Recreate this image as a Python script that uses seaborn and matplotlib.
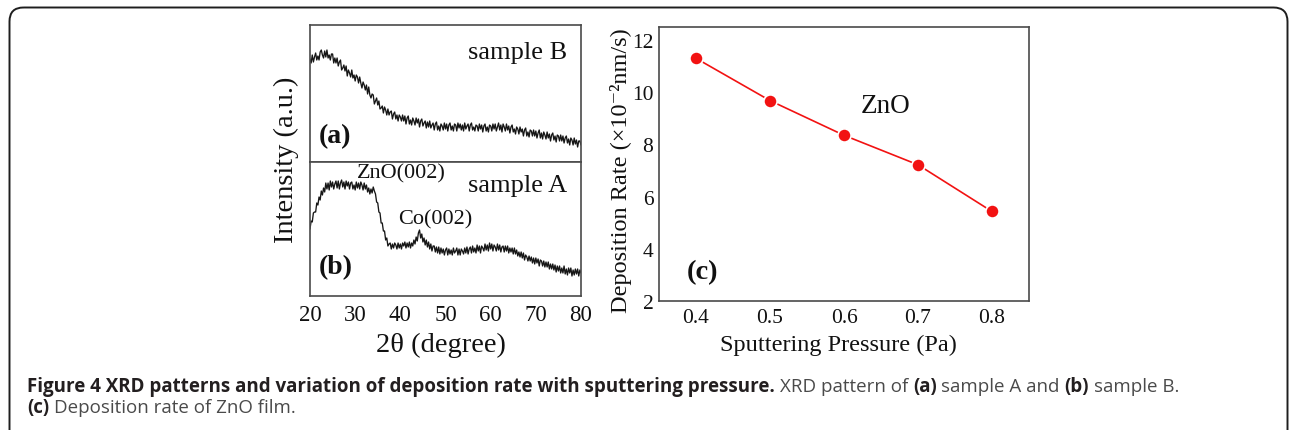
import numpy as np
import pandas as pd
import matplotlib
matplotlib.use("Agg")
import matplotlib.pyplot as plt
import seaborn as sns
from matplotlib.patches import FancyBboxPatch
from matplotlib.ticker import MultipleLocator, FixedLocator

# ---- data ----
# XRD scans, 2theta from 20 to 80 deg in 0.25 deg steps, intensity in arbitrary units
two_theta = np.linspace(20, 80, 241)

sample_b = [103, 99, 107, 100, 105, 109, 102, 106, 102, 110,
            112, 107, 104, 111, 105, 112, 104, 107, 102, 108,
            108, 99, 104, 99, 104, 96, 100, 102, 92, 94,
            97, 91, 96, 86, 92, 89, 85, 92, 84, 87,
            81, 87, 85, 79, 85, 79, 74, 80, 77, 72,
            77, 68, 75, 67, 64, 68, 67, 58, 61, 64,
            57, 61, 53, 54, 56, 49, 55, 52, 47, 53,
            47, 50, 51, 43, 48, 50, 43, 47, 41, 47,
            45, 41, 47, 41, 46, 38, 44, 46, 38, 42,
            37, 44, 41, 37, 44, 39, 43, 35, 41, 43,
            36, 39, 41, 34, 40, 35, 41, 34, 37, 39,
            32, 38, 40, 32, 36, 31, 38, 36, 32, 39,
            33, 38, 31, 37, 39, 32, 36, 31, 38, 37,
            31, 39, 34, 38, 32, 37, 31, 39, 33, 36,
            38, 31, 37, 39, 32, 35, 31, 37, 36, 31,
            38, 33, 37, 30, 36, 38, 31, 35, 30, 37,
            36, 31, 38, 33, 38, 31, 35, 39, 32, 37,
            30, 38, 35, 31, 38, 32, 36, 29, 35, 37,
            30, 33, 28, 35, 33, 28, 35, 30, 33, 26,
            32, 34, 26, 30, 25, 32, 31, 26, 32, 26,
            31, 24, 29, 32, 24, 29, 23, 30, 27, 23,
            30, 24, 28, 21, 27, 29, 22, 26, 20, 27,
            26, 21, 27, 21, 26, 19, 24, 26, 19, 23,
            17, 24, 22, 17, 24, 18, 22, 15, 21, 21,
            17]

sample_a = [67, 75, 74, 83, 84, 84, 93, 91, 99, 96,
            105, 101, 108, 104, 113, 107, 113, 106, 115, 109,
            114, 107, 112, 115, 108, 115, 107, 113, 116, 109,
            114, 107, 115, 110, 114, 107, 113, 114, 107, 111,
            106, 114, 108, 113, 107, 114, 111, 106, 113, 107,
            111, 104, 108, 102, 107, 103, 109, 105, 102, 94,
            93, 84, 83, 73, 73, 65, 65, 56, 58, 50,
            52, 53, 47, 52, 48, 53, 51, 47, 53, 48,
            52, 47, 53, 50, 54, 48, 53, 49, 54, 48,
            53, 50, 56, 52, 59, 55, 63, 66, 58, 62,
            54, 58, 51, 56, 49, 54, 47, 52, 45, 50,
            50, 44, 49, 43, 49, 42, 48, 43, 47, 41,
            46, 48, 41, 47, 42, 46, 41, 48, 43, 45,
            48, 41, 47, 41, 47, 45, 42, 48, 43, 49,
            42, 47, 49, 43, 50, 44, 48, 43, 51, 45,
            50, 43, 50, 48, 45, 52, 46, 51, 45, 53,
            47, 52, 45, 51, 49, 45, 52, 46, 51, 44,
            49, 50, 44, 50, 45, 50, 43, 48, 44, 48,
            42, 48, 42, 46, 40, 44, 39, 44, 38, 43,
            36, 41, 39, 35, 40, 35, 39, 33, 38, 32,
            38, 33, 37, 30, 36, 35, 30, 35, 29, 34,
            29, 34, 27, 32, 27, 32, 26, 31, 24, 30,
            25, 30, 23, 28, 23, 30, 22, 27, 21, 28,
            23, 28, 20, 26, 21, 27, 22, 27, 20, 26,
            23]

# deposition rate of ZnO film
pressure = [0.4, 0.5, 0.6, 0.7, 0.8]           # Pa
dep_rate = [11.3, 9.68, 8.35, 7.22, 5.43]      # x10^-2 nm/s

xrd_b = pd.DataFrame({"two_theta": two_theta, "intensity": sample_b})
xrd_a = pd.DataFrame({"two_theta": two_theta, "intensity": sample_a})
rate_df = pd.DataFrame({"pressure": pressure, "rate": dep_rate})

# ---- style ----
sns.set_theme(style="white")
plt.rcParams["font.family"] = ["Liberation Serif", "DejaVu Serif"]

W, H = 1290, 431
fig = plt.figure(figsize=(W / 100, H / 100), dpi=100)


def box(x0, y0, x1, y1):
    # pixel box (top-left origin) -> figure fraction
    return [x0 / W, 1 - y1 / H, (x1 - x0) / W, (y1 - y0) / H]


spine_col = "#4a4a4a"
ink = "#111111"

# background layer in pixel units: rounded frame + caption
bg = fig.add_axes([0, 0, 1, 1], zorder=-1)
bg.set_xlim(0, W)
bg.set_ylim(H, 0)
bg.axis("off")
bg.add_patch(FancyBboxPatch((9.5, 8.5), 1278, 480,
                            boxstyle="round,pad=0,rounding_size=14",
                            fill=False, ec="#1e1e1e", lw=1.4))


def style_axes(ax):
    for s in ax.spines.values():
        s.set_color(spine_col)
        s.set_linewidth(1.2)
    ax.tick_params(which="both", direction="in", color=spine_col, width=1.0,
                   top=False, right=False)
    ax.tick_params(which="major", length=5)
    ax.tick_params(which="minor", length=3)
    ax.set_xlabel("")
    ax.set_ylabel("")


# ---- (a) sample B ----
ax_a = fig.add_axes(box(310, 26, 581, 163))
sns.lineplot(data=xrd_b, x="two_theta", y="intensity", ax=ax_a,
             color="#161616", lw=0.95)
ax_a.set_xlim(20, 80)
ax_a.set_ylim(0, 137)
style_axes(ax_a)
ax_a.xaxis.set_major_locator(MultipleLocator(10))
ax_a.xaxis.set_minor_locator(MultipleLocator(5))
ax_a.yaxis.set_major_locator(FixedLocator([13, 40.5, 68, 95.5, 123]))
ax_a.yaxis.set_minor_locator(FixedLocator([26.75, 54.25, 81.75, 109.25]))
ax_a.tick_params(labelbottom=False, labelleft=False)
ax_a.text(0.948, 0.80, "sample B", transform=ax_a.transAxes, fontsize=19,
          ha="right", va="center", color=ink)
ax_a.text(0.033, 0.19, "(a)", transform=ax_a.transAxes, fontsize=20,
          fontweight="bold", ha="left", va="center", color=ink)

# ---- (b) sample A ----
ax_b = fig.add_axes(box(310, 163, 581, 297))
sns.lineplot(data=xrd_a, x="two_theta", y="intensity", ax=ax_b,
             color="#161616", lw=0.95)
ax_b.set_xlim(20, 80)
ax_b.set_ylim(0, 134)
style_axes(ax_b)
ax_b.xaxis.set_major_locator(MultipleLocator(10))
ax_b.xaxis.set_minor_locator(MultipleLocator(5))
ax_b.yaxis.set_major_locator(FixedLocator([21, 44, 67, 90, 113]))
ax_b.yaxis.set_minor_locator(FixedLocator([10, 32.5, 55.5, 78.5, 101.5, 124]))
ax_b.tick_params(labelleft=False, labelsize=16.5, pad=6, labelcolor=ink)
ax_b.set_xlabel("2θ (degree)", fontsize=20.5, color=ink, va="center")
ax_b.xaxis.set_label_coords(0.485, -0.36)
ax_b.text(0.173, 0.92, "ZnO(002)", transform=ax_b.transAxes, fontsize=16,
          ha="left", va="center", color=ink)
ax_b.text(0.948, 0.83, "sample A", transform=ax_b.transAxes, fontsize=19,
          ha="right", va="center", color=ink)
ax_b.text(0.325, 0.575, "Co(002)", transform=ax_b.transAxes, fontsize=16,
          ha="left", va="center", color=ink)
ax_b.text(0.033, 0.216, "(b)", transform=ax_b.transAxes, fontsize=20,
          fontweight="bold", ha="left", va="center", color=ink)

fig.text(286 / W, 1 - 160 / H, "Intensity (a.u.)", rotation=90,
         fontsize=20.5, ha="center", va="center", color=ink)

# ---- (c) deposition rate ----
ax_c = fig.add_axes(box(659, 28, 1029, 302))
sns.lineplot(data=rate_df, x="pressure", y="rate", ax=ax_c, color="#f21212",
             lw=1.2, marker="o", markersize=9.5, markeredgecolor="white",
             markeredgewidth=1.2)
ax_c.set_xlim(0.35, 0.85)
ax_c.set_ylim(2, 12.5)
style_axes(ax_c)
ax_c.xaxis.set_major_locator(MultipleLocator(0.1))
ax_c.xaxis.set_minor_locator(MultipleLocator(0.05))
ax_c.yaxis.set_major_locator(MultipleLocator(2))
ax_c.yaxis.set_minor_locator(MultipleLocator(1))
ax_c.tick_params(axis="x", labelsize=15.5, pad=5, labelcolor=ink)
ax_c.tick_params(axis="y", labelsize=15.5, pad=4, labelcolor=ink)
ax_c.set_xlabel("Sputtering Pressure (Pa)", fontsize=17.5, color=ink, va="center")
ax_c.xaxis.set_label_coords(0.485, -0.16)
ax_c.set_ylabel("Deposition Rate (×10⁻²nm/s)", fontsize=17.5, color=ink,
                va="center")
ax_c.yaxis.set_label_coords(-0.103, 0.48)
ax_c.text(0.546, 0.712, "ZnO", transform=ax_c.transAxes, fontsize=19.5,
          ha="left", va="center", color=ink)
ax_c.text(0.076, 0.109, "(c)", transform=ax_c.transAxes, fontsize=20.5,
          fontweight="bold", ha="left", va="center", color=ink)

# ---- caption ----
renderer = fig.canvas.get_renderer()
cap_size = 13.5


def caption_line(parts, x, y):
    for txt, bold in parts:
        if txt == " ":
            x += cap_size * 0.36
            continue
        t = bg.text(x, y, txt, fontsize=cap_size, family=["Open Sans", "DejaVu Sans"],
                    fontweight="bold" if bold else "normal",
                    color="#231f20" if bold else "#4a4a4a", va="baseline")
        x = t.get_window_extent(renderer).x1


caption_line([("Figure 4 XRD patterns and variation of deposition rate with sputtering pressure.", True),
              (" ", False), ("XRD pattern of", False), (" ", False), ("(a)", True),
              (" ", False), ("sample A and", False), (" ", False), ("(b)", True),
              (" ", False), ("sample B.", False)], 27, 392)
caption_line([("(c)", True), (" ", False), ("Deposition rate of ZnO film.", False)], 27, 413)

fig.savefig("out.png", dpi=100)
